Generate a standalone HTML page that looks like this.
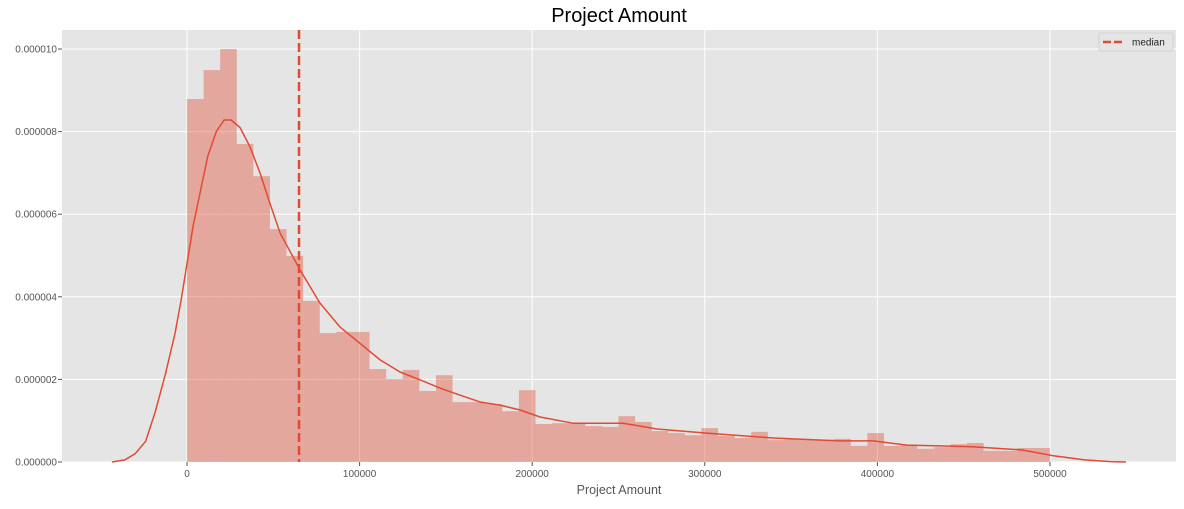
<!DOCTYPE html>
<html><head><meta charset="utf-8"><style>
body{margin:0;background:#fff;font-family:"Liberation Sans",sans-serif;}
svg text{font-family:"Liberation Sans",sans-serif;}
</style></head><body>
<svg id="chart" width="1184" height="504"></svg>
<script>
const binCounts = [8.79,9.49,10.0,7.70,6.92,5.64,4.99,3.90,3.12,3.15,3.15,2.25,2.01,2.23,1.72,2.1,1.45,1.45,1.4,1.23,1.74,0.92,0.94,0.94,0.87,0.85,1.11,0.97,0.75,0.70,0.65,0.82,0.63,0.58,0.73,0.53,0.55,0.55,0.54,0.56,0.39,0.70,0.39,0.41,0.32,0.36,0.43,0.46,0.27,0.27,0.34,0.34];
const binStart = 0, binEnd = 500000;
const kdeX = [-43500,-36000,-30000,-24000,-18500,-12700,-7000,-3500,0,3500,7500,12000,17000,21500,25500,30700,36500,42300,48000,54000,65500,77000,88600,100000,112000,123400,135000,146500,158000,170000,181000,193000,204500,223600,252600,272300,301000,339500,378000,397500,417000,436000,455000,484000,502000,520000,535000,544000];
const kdeY = [0,0.05,0.2,0.5,1.2,2.1,3.1,3.9,4.8,5.7,6.5,7.4,8.0,8.28,8.28,8.1,7.63,7.0,6.27,5.54,4.65,3.85,3.27,2.88,2.47,2.18,1.99,1.79,1.62,1.45,1.38,1.26,1.09,0.94,0.94,0.80,0.70,0.58,0.51,0.51,0.41,0.39,0.37,0.29,0.15,0.05,0.01,0];
const medianValue = 64900;
const xTicks = [0,100000,200000,300000,400000,500000];
const yTicks = [0,2,4,6,8,10];
const yTickLabels = ["0.000000","0.000002","0.000004","0.000006","0.000008","0.000010"];

const NS="http://www.w3.org/2000/svg";
const svg=document.getElementById('chart');
const L=62,R=1176,T=30,B=462;
const xs=v=>187+v/100000*172.6;
const ys=v=>462-v*41.3;
function mk(tag,attrs,parent){const e=document.createElementNS(NS,tag);for(const k in attrs)e.setAttribute(k,attrs[k]);(parent||svg).appendChild(e);return e;}
const bg=mk('rect',{x:L,y:T,width:R-L,height:B-T,fill:'#e5e5e5'});


yTicks.forEach((t,i)=>{
  const g=mk('line',{x1:L,x2:R,y1:ys(t),y2:ys(t),stroke:'#fff','stroke-width':1});
  
  
  mk('line',{x1:L-4,x2:L,y1:ys(t),y2:ys(t),stroke:'#555'});
  const tx=mk('text',{x:L-5,y:ys(t)+3.5,'text-anchor':'end','font-size':10,fill:'#555'});
  tx.textContent=yTickLabels[i];
  
  
});
xTicks.forEach(t=>{
  const g=mk('line',{x1:xs(t),x2:xs(t),y1:T,y2:B,stroke:'#fff','stroke-width':1});
  
  
  mk('line',{x1:xs(t),x2:xs(t),y1:B,y2:B+4,stroke:'#555'});
  const tx=mk('text',{x:xs(t),y:B+15,'text-anchor':'middle','font-size':10,fill:'#555'});
  tx.textContent=String(t);
  
  
});
const bw=(binEnd-binStart)/binCounts.length;
binCounts.forEach((c,i)=>{
  const x0=xs(binStart+i*bw),x1=xs(binStart+(i+1)*bw);
  const r=mk('rect',{x:x0,y:ys(c),width:x1-x0,height:B-ys(c),fill:'#e24a33','fill-opacity':0.4});
  
  
});
const pts=kdeX.map((x,i)=>xs(x).toFixed(1)+','+ys(kdeY[i]).toFixed(1)).join(' ');
const kde=mk('polyline',{points:pts,fill:'none',stroke:'#e24a33','stroke-width':1.5,'stroke-linejoin':'round'});


const med=mk('line',{x1:xs(medianValue),x2:xs(medianValue),y1:T,y2:B,stroke:'#e24a33','stroke-width':2.5,'stroke-dasharray':'9,4'});


const title=mk('text',{x:619,y:22,'text-anchor':'middle','font-size':20,fill:'#000'});
title.textContent='Project Amount';


const xl=mk('text',{x:619,y:494,'text-anchor':'middle','font-size':12.5,fill:'#555'});
xl.textContent='Project Amount';


const lg=mk('g',{});


mk('rect',{x:1099,y:33,width:74,height:18,rx:2,fill:'#e5e5e5',stroke:'#ccc','stroke-width':0.8},lg);
mk('line',{x1:1103,x2:1125,y1:42,y2:42,stroke:'#e24a33','stroke-width':2.5,'stroke-dasharray':'8,3'},lg);
const lt=mk('text',{x:1132,y:45.5,'font-size':10,fill:'#222'},lg);
lt.textContent='median';


</script>
</body></html>
